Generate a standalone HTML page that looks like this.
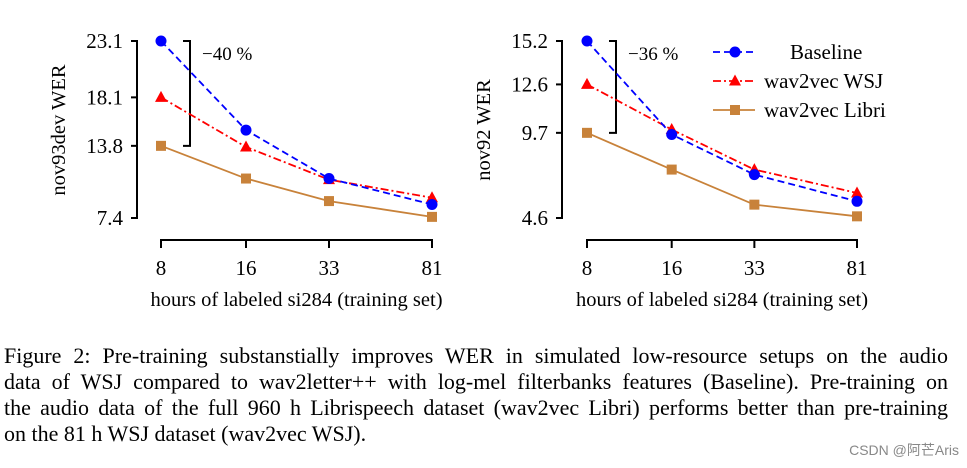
<!DOCTYPE html>
<html><head><meta charset="utf-8">
<style>
body{margin:0;background:#fff;width:967px;height:468px;overflow:hidden;position:relative;font-family:"Liberation Serif",serif}
#cap{position:absolute;left:4px;top:343px;width:944px;font-size:22px;line-height:26px;color:#000}
#cap div{white-space:nowrap;text-align:justify;text-align-last:justify;width:944px}
#cap div.last{text-align-last:left}
#wm{position:absolute;right:8px;top:440px;font-family:"Liberation Sans","Noto Sans CJK SC",sans-serif;font-size:14px;color:#888}
</style></head><body>
<svg id="chart" width="967" height="468" style="position:absolute;left:0;top:0"></svg>
<div id="cap">
<div>Figure 2: Pre-training substanstially improves WER in simulated low-resource setups on the audio</div>
<div>data of WSJ compared to wav2letter++ with log-mel filterbanks features (Baseline). Pre-training on</div>
<div>the audio data of the full 960 h Librispeech dataset (wav2vec Libri) performs better than pre-training</div>
<div class="last">on the 81 h WSJ dataset (wav2vec WSJ).</div>
</div>
<div id="wm">CSDN @阿芒Aris</div>
<script>
const categories=["8","16","33","81"];
const leftTicks=[23.1,18.1,13.8,7.4];
const leftBaseline=[23.1,15.2,10.9,8.6];
const leftWSJ=[18.1,13.7,10.8,9.2];
const leftLibri=[13.8,10.9,8.9,7.5];
const rightTicks=[15.2,12.6,9.7,4.6];
const rightBaseline=[15.2,9.6,7.2,5.6];
const rightWSJ=[12.6,9.9,7.5,6.1];
const rightLibri=[9.7,7.5,5.4,4.7];
const NS="http://www.w3.org/2000/svg";
const svg=document.getElementById('chart');
function mk(t,a,p){const e=document.createElementNS(NS,t);for(const k in a)e.setAttribute(k,a[k]);(p||svg).appendChild(e);return e;}
function panel(o){
  const g=mk('g',{});
  
  
  const ymin=o.ticks[o.ticks.length-1],ymax=o.ticks[0];
  const y=v=>41+(ymax-v)/(ymax-ymin)*177;
  const x=i=>o.xs[0]+(o.xs[1]-o.xs[0])*[0,0.3137,0.6199,1][i];
  const ax=mk('line',{x1:o.ax,y1:40,x2:o.ax,y2:219,stroke:'#000','stroke-width':2},g);
  
  o.ticks.forEach(t=>{
    mk('line',{x1:o.ax-6,y1:y(t),x2:o.ax,y2:y(t),stroke:'#000','stroke-width':2},g);
    const tx=mk('text',{x:o.ax-14,y:y(t)+7,'text-anchor':'end','font-size':21},g);
    tx.textContent=t.toFixed(1);
    
  });
  const xl=mk('line',{x1:x(0),y1:240,x2:x(3),y2:240,stroke:'#000','stroke-width':2},g);
  
  categories.forEach((c,i)=>{
    mk('line',{x1:x(i),y1:239,x2:x(i),y2:248,stroke:'#000','stroke-width':2},g);
    const tx=mk('text',{x:x(i),y:275,'text-anchor':'middle','font-size':21},g);
    tx.textContent=c;
    
  });
  const xt=mk('text',{x:(x(0)+x(3))/2,y:306,'text-anchor':'middle','font-size':20.5},g);
  xt.textContent='hours of labeled si284 (training set)';
  
  const yt=mk('text',{transform:`translate(${o.ax-72},130) rotate(-90)`,'text-anchor':'middle','font-size':20.5},g);
  yt.textContent=o.ylabel;
  
  const by2=y(o.bracketLow);
  mk('path',{d:`M${o.bx-7},41 H${o.bx} V${by2} H${o.bx-7}`,fill:'none',stroke:'#000','stroke-width':2},g);
  const bt=mk('text',{x:o.bx+12,y:60,'font-size':19},g);
  bt.textContent=o.pct;
  
  const series=[
    {d:o.libri,c:'#c8823a',dash:'',m:'sq',n:'libri'},
    {d:o.wsj,c:'#ff0000',dash:'8 3 2 3',m:'tri',n:'wsj'},
    {d:o.base,c:'#0000ff',dash:'7 4',m:'dot',n:'baseline'}];
  series.forEach(s=>{
    const pl=mk('polyline',{points:s.d.map((v,i)=>x(i)+','+y(v)).join(' '),fill:'none',stroke:s.c,'stroke-width':1.8,'stroke-dasharray':s.dash},g);
    
    s.d.forEach((v,i)=>{
      let e;
      if(s.m==='dot')e=mk('circle',{cx:x(i),cy:y(v),r:5.5,fill:s.c},g);
      else if(s.m==='tri')e=mk('path',{d:`M${x(i)},${y(v)-6.5} L${x(i)+6},${y(v)+4.5} L${x(i)-6},${y(v)+4.5}Z`,fill:s.c},g);
      else e=mk('rect',{x:x(i)-5,y:y(v)-5,width:10,height:10,fill:s.c},g);
      
    });
  });
}
panel({name:'left-chart',ax:137,xs:[161,432],ticks:leftTicks,ylabel:'nov93dev WER',base:leftBaseline,wsj:leftWSJ,libri:leftLibri,bx:190,bracketLow:13.8,pct:'−40 %'});
panel({name:'right-chart',ax:562,xs:[587,857],ticks:rightTicks,ylabel:'nov92 WER',base:rightBaseline,wsj:rightWSJ,libri:rightLibri,bx:616,bracketLow:9.7,pct:'−36 %'});
const lg=mk('g',{});

[['Baseline','#0000ff','7 4','dot',52],['wav2vec WSJ','#ff0000','8 3 2 3','tri',81],['wav2vec Libri','#c8823a','','sq',110]].forEach(l=>{
  const e=mk('g',{},lg);
  
  mk('line',{x1:713,y1:l[4],x2:755,y2:l[4],stroke:l[1],'stroke-width':1.8,'stroke-dasharray':l[2]},e);
  if(l[3]==='dot')mk('circle',{cx:735,cy:l[4],r:5.5,fill:l[1]},e);
  else if(l[3]==='tri')mk('path',{d:`M735,${l[4]-6.5} L741,${l[4]+4.5} L729,${l[4]+4.5}Z`,fill:l[1]},e);
  else mk('rect',{x:730,y:l[4]-5,width:10,height:10,fill:l[1]},e);
  const t=mk('text',{x:l[0]==='Baseline'?790:764,y:l[4]+7,'font-size':21},e);
  t.textContent=l[0];
});
</script>
</body></html>
